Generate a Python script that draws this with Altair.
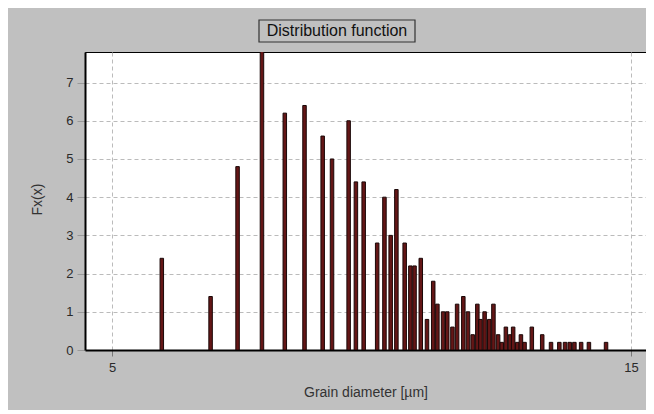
import altair as alt
import pandas as pd

# Grain diameter bin positions [µm] and distribution values
diameter = [5.96, 6.90, 7.42, 7.89, 8.33, 8.71, 9.06, 9.24, 9.56, 9.70,
            9.85, 10.11, 10.25, 10.37, 10.48, 10.64, 10.75, 10.83, 10.95, 11.07,
            11.19, 11.27, 11.38, 11.46, 11.56, 11.65, 11.77, 11.86, 11.95, 12.04,
            12.10, 12.18, 12.27, 12.35, 12.44, 12.51, 12.59, 12.67, 12.73, 12.81,
            12.88, 12.95, 13.09, 13.29, 13.46, 13.62, 13.73, 13.82, 13.91, 14.04,
            14.19, 14.52]
fx = [2.4, 1.4, 4.8, 8.0, 6.2, 6.4, 5.6, 5.0, 6.0, 4.4,
      4.4, 2.8, 4.0, 3.0, 4.2, 2.8, 2.2, 2.2, 2.4, 0.8,
      1.8, 1.2, 1.0, 1.0, 0.6, 1.2, 1.4, 1.0, 0.4, 1.2,
      0.8, 1.0, 0.8, 1.2, 0.4, 0.2, 0.6, 0.4, 0.6, 0.2,
      0.4, 0.2, 0.6, 0.4, 0.2, 0.2, 0.2, 0.2, 0.2, 0.2,
      0.2, 0.2]

x_ticks = [5, 15]
y_ticks = [0, 1, 2, 3, 4, 5, 6, 7]
title_text = ["Distribution function"]

df = pd.DataFrame({"d": diameter, "fx": fx})
FONT = "Liberation Sans"

bars = alt.Chart(df).mark_bar(
    size=3.5, color="#641616", stroke="#1a0808", strokeWidth=1, clip=True
).encode(
    x=alt.X("d:Q", scale=alt.Scale(domain=[4.48, 15.29], nice=False, zero=False, padding=0),
            axis=alt.Axis(values=x_ticks, title="Grain diameter [µm]",
                          grid=True, gridDash=[4, 3], gridColor="#bbbbbb",
                          tickSize=6, tickColor="#777777", labelPadding=5,
                          titleY=42, titleBaseline="middle")),
    y=alt.Y("fx:Q", scale=alt.Scale(domain=[0, 7.8], nice=False, padding=0),
            axis=alt.Axis(values=y_ticks, title="Fx(x)",
                          grid=True, gridDash=[4, 3], gridColor="#bbbbbb",
                          tickSize=8, tickColor="#999999", labelPadding=4,
                          titleX=-48, titleY=147, titleBaseline="middle",
                          titleAlign="center")),
)

tdf = pd.DataFrame({"t": title_text})
box = alt.Chart(tdf).mark_rect(
    fill="#c0c0c0", stroke="#333333", strokeWidth=1.2
).encode(
    x=alt.value(174), x2=alt.value(330), y=alt.value(-32), y2=alt.value(-10)
)
ttext = alt.Chart(tdf).mark_text(
    font=FONT, fontSize=16, color="#111111", align="center", baseline="alphabetic"
).encode(
    x=alt.value(252), y=alt.value(-16), text="t:N"
)

chart = alt.layer(bars, box, ttext).properties(
    width=561, height=298,
    autosize=alt.AutoSizeParams(type="none"),
    padding={"left": 77, "top": 44, "right": 0, "bottom": 60},
    background="#c0c0c0",
).configure_view(
    fill="white", stroke="black", strokeWidth=1
).configure_axis(
    domainColor="black", domainWidth=2,
    labelFont=FONT, labelFontSize=13, labelColor="#2a2a2a",
    titleFont=FONT, titleFontSize=14, titleColor="#333333", titleFontWeight="normal",
)

chart.save("out.html", embed_options={"renderer": "svg", "actions": False})
